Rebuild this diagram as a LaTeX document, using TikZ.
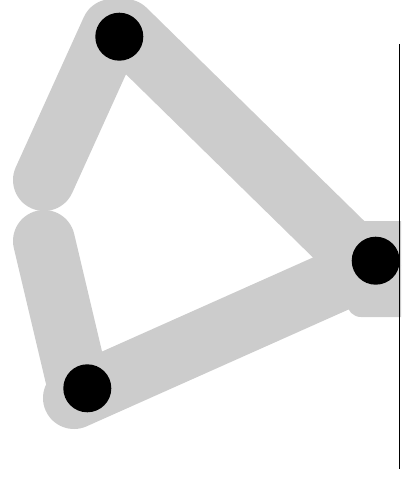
\documentclass[tikz,border=0pt]{standalone}
\definecolor{band}{RGB}{204,204,204}
\begin{document}
\begin{tikzpicture}[x=1pt,y=-1pt,
  bandline/.style={draw=band, line width=62pt, line cap=round},
  dot/.style={circle, fill=black, minimum size=48pt, inner sep=0pt},
  rule/.style={draw=black, line width=1.8pt}]
\useasboundingbox (0,0) rectangle (401,489);
\clip (0,0) rectangle (401,489);
% band end points
\coordinate (a1) at (125,30);  \coordinate (a2) at (370,270);
\coordinate (b1) at (74,398);  \coordinate (b2) at (370,266);
\coordinate (c1) at (112,30);  \coordinate (c2) at (44,180);
\coordinate (d1) at (44,241);  \coordinate (d2) at (80,393);
% gray bands
\draw[bandline] (a1) -- (a2);
\draw[bandline] (b1) -- (b2);
\draw[bandline] (c1) -- (c2);
\draw[bandline] (d1) -- (d2);
\fill[band, rounded corners=14pt] (347,221) rectangle (440,317);
% vertical rule
\coordinate (r1) at (399.5,44);
\coordinate (r2) at (399.5,469);
\draw[rule] (r1) -- (r2);
% dots
\node[dot] (top) at (119.3,36.7) {};
\node[dot] (right) at (375.7,260.7) {};
\node[dot] (bottom) at (87.3,388.3) {};
\end{tikzpicture}
\end{document}
